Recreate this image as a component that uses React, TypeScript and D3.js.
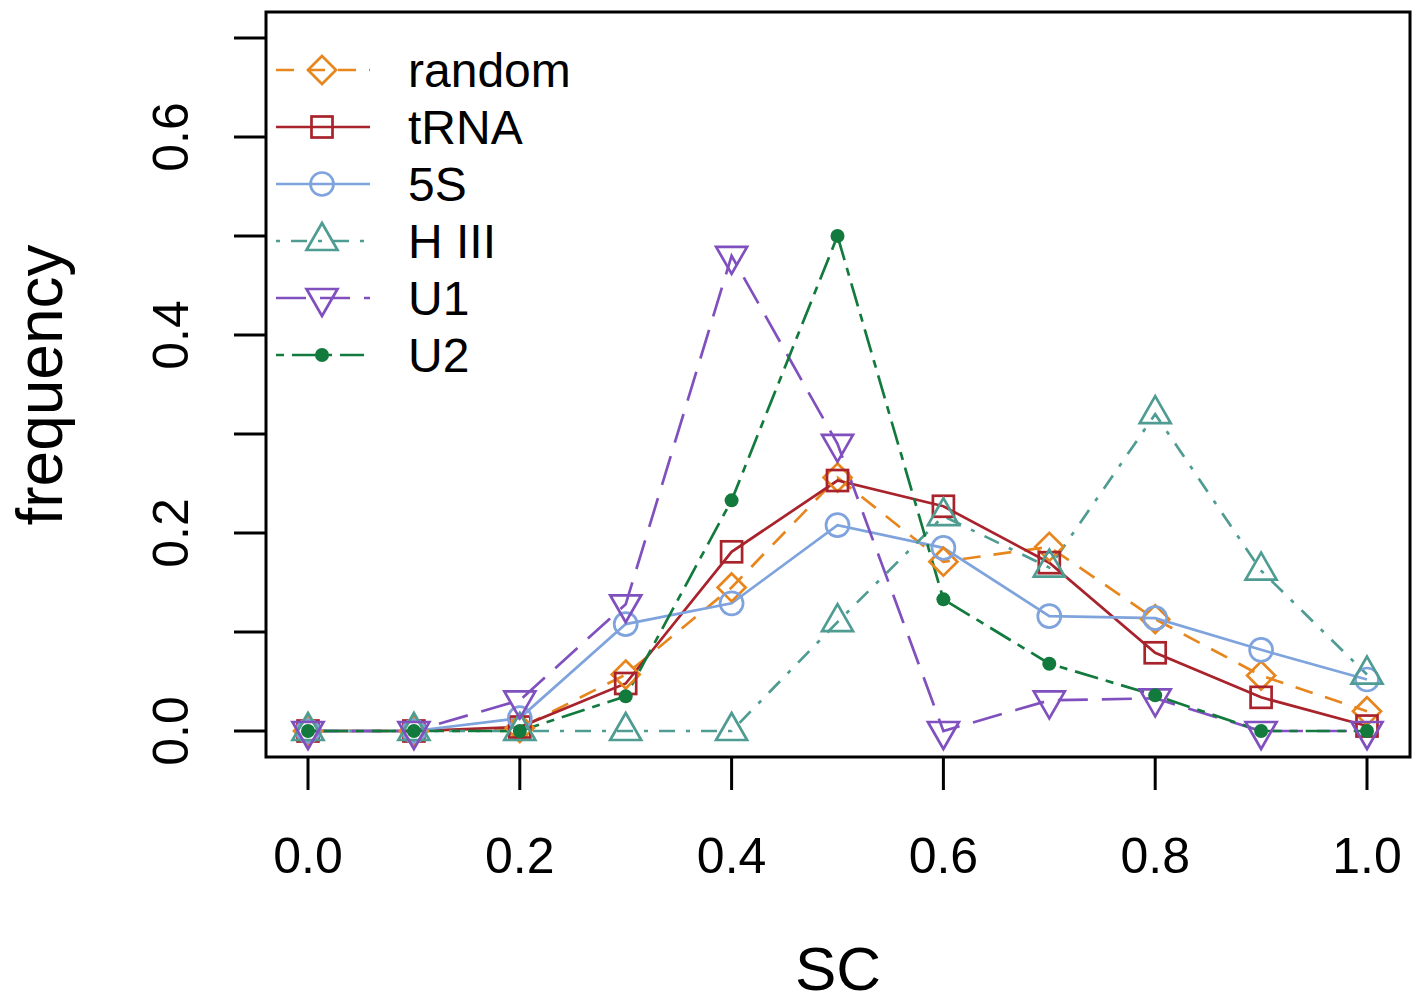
import * as d3 from "d3";

const scValues = [0, 0.1, 0.2, 0.3, 0.4, 0.5, 0.6, 0.7, 0.8, 0.9, 1.0];

const randomFreq = [0, 0, 0.003, 0.057, 0.145, 0.256, 0.171, 0.186, 0.113, 0.056, 0.02];
const trnaFreq = [0, 0, 0.004, 0.048, 0.181, 0.253, 0.227, 0.17, 0.079, 0.034, 0.005];
const fiveSFreq = [0, 0, 0.013, 0.108, 0.129, 0.208, 0.185, 0.116, 0.114, 0.082, 0.052];
const hIIIFreq = [0, 0, 0, 0, 0, 0.11, 0.217, 0.165, 0.32, 0.162, 0.057];
const u1Freq = [0, 0, 0.031, 0.128, 0.48, 0.29, 0, 0.031, 0.033, 0, 0];
const u2Freq = [0, 0, 0, 0.035, 0.233, 0.5, 0.133, 0.068, 0.036, 0, 0];

const seriesNames = ["random", "tRNA", "5S", "H III", "U1", "U2"];

const xTickValues = [0, 0.2, 0.4, 0.6, 0.8, 1.0];
const yTickValues = [0, 0.1, 0.2, 0.3, 0.4, 0.5, 0.6, 0.7];
const yLabelValues = [0, 0.2, 0.4, 0.6];

type Shape = "diamond" | "square" | "circle" | "triangleUp" | "triangleDown" | "dot";

const styles: { color: string; dash: string; shape: Shape }[] = [
  { color: "#E8861E", dash: "18,13", shape: "diamond" },
  { color: "#A8232B", dash: "none", shape: "square" },
  { color: "#7FA3DD", dash: "none", shape: "circle" },
  { color: "#4E9C92", dash: "4,11,16,11", shape: "triangleUp" },
  { color: "#8050BE", dash: "30,14", shape: "triangleDown" },
  { color: "#127A3C", dash: "8,8,24,8", shape: "dot" },
];

function Marker({ shape, x, y, color }: { shape: Shape; x: number; y: number; color: string }) {
  const sw = 2.7;
  if (shape === "diamond") {
    const r = 14;
    return <path d={`M${x},${y - r}L${x + r},${y}L${x},${y + r}L${x - r},${y}Z`} fill="none" stroke={color} strokeWidth={sw} />;
  }
  if (shape === "square") {
    const r = 10.5;
    return <rect x={x - r} y={y - r} width={2 * r} height={2 * r} fill="none" stroke={color} strokeWidth={sw} />;
  }
  if (shape === "circle") {
    return <circle cx={x} cy={y} r={11.5} fill="none" stroke={color} strokeWidth={sw} />;
  }
  if (shape === "triangleUp") {
    const h = 27, w = 15.5;
    return <path d={`M${x},${y - (2 * h) / 3}L${x + w},${y + h / 3}L${x - w},${y + h / 3}Z`} fill="none" stroke={color} strokeWidth={sw} />;
  }
  if (shape === "triangleDown") {
    const h = 27, w = 15.5;
    return <path d={`M${x},${y + (2 * h) / 3}L${x + w},${y - h / 3}L${x - w},${y - h / 3}Z`} fill="none" stroke={color} strokeWidth={sw} />;
  }
  return <circle cx={x} cy={y} r={7} fill={color} />;
}

export default function App() {
  const width = 1412;
  const height = 1003;
  const boxLeft = 266;
  const boxRight = 1410;
  const boxTop = 12;
  const boxBottom = 757;

  const x = d3.scaleLinear().domain([0, 1]).range([308, 1367]);
  const y = d3.scaleLinear().domain([0, 0.7]).range([731, 38]);

  const allSeries = [randomFreq, trnaFreq, fiveSFreq, hIIIFreq, u1Freq, u2Freq];

  const line = d3
    .line<number>()
    .x((_, i) => x(scValues[i]))
    .y((d) => y(d));

  const font = "'Liberation Sans', Arial, Helvetica, sans-serif";

  return (
    <svg
      width={width}
      height={height}
      style={{ position: "absolute", left: 0, top: 0, background: "white" }}
      fontFamily={font}
    >
      {/* series lines */}
      {allSeries.map((vals, si) => (
        <path
          key={"l" + si}
          d={line(vals) || ""}
          fill="none"
          stroke={styles[si].color}
          strokeWidth={2.7}
          strokeDasharray={styles[si].dash}
        />
      ))}

      {/* markers */}
      {allSeries.map((vals, si) => (
        <g key={"m" + si}>
          {vals.map((v, i) => (
            <Marker key={i} shape={styles[si].shape} x={x(scValues[i])} y={y(v)} color={styles[si].color} />
          ))}
        </g>
      ))}

      {/* box */}
      <rect
        x={boxLeft}
        y={boxTop}
        width={boxRight - boxLeft}
        height={boxBottom - boxTop}
        fill="none"
        stroke="black"
        strokeWidth={3}
      />

      {/* x axis */}
      {xTickValues.map((t) => (
        <g key={"x" + t}>
          <line x1={x(t)} x2={x(t)} y1={boxBottom} y2={boxBottom + 33} stroke="black" strokeWidth={3} />
          <text x={x(t)} y={873} textAnchor="middle" fontSize={50}>
            {t.toFixed(1)}
          </text>
        </g>
      ))}
      <text x={838} y={990} textAnchor="middle" fontSize={62}>
        SC
      </text>

      {/* y axis */}
      {yTickValues.map((t) => (
        <line key={"y" + t} x1={boxLeft - 32} x2={boxLeft} y1={y(t)} y2={y(t)} stroke="black" strokeWidth={3} />
      ))}
      {yLabelValues.map((t) => (
        <text
          key={"yl" + t}
          transform={`translate(188,${y(t)}) rotate(-90)`}
          textAnchor="middle"
          fontSize={50}
        >
          {t.toFixed(1)}
        </text>
      ))}
      <text transform="translate(62,385) rotate(-90)" textAnchor="middle" fontSize={64}>
        frequency
      </text>

      {/* legend */}
      {seriesNames.map((name, i) => {
        const cy = 70 + i * 57;
        return (
          <g key={"lg" + name}>
            <line
              x1={276}
              x2={370}
              y1={cy}
              y2={cy}
              stroke={styles[i].color}
              strokeWidth={2.7}
              strokeDasharray={styles[i].dash}
            />
            <Marker shape={styles[i].shape} x={322} y={cy} color={styles[i].color} />
            <text x={408} y={cy + 17} fontSize={48}>
              {name}
            </text>
          </g>
        );
      })}
    </svg>
  );
}
